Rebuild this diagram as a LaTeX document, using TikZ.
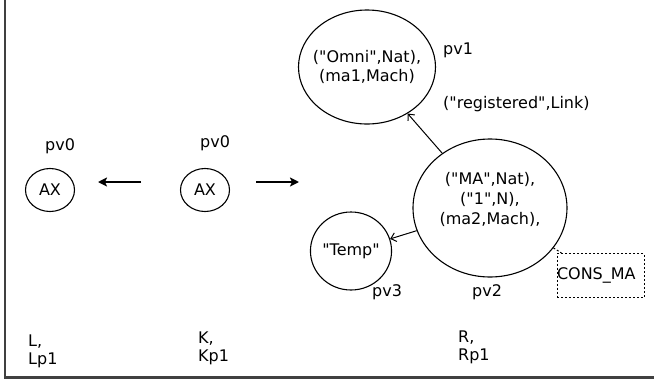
\documentclass[tikz,border=0pt]{standalone}
\usepackage{fontspec}
\setmainfont{DejaVu Sans}
\usetikzlibrary{shapes.geometric,arrows.meta}
\newcommand{\dq}{\textquotedbl}
\begin{document}
\begin{tikzpicture}[x=1pt,y=-1pt,
  every node/.style={font=\fontsize{16pt}{18pt}\selectfont},
  ell/.style={draw, ellipse, line width=1.1pt, inner sep=0pt},
  txt/.style={inner sep=0pt, anchor=base west},
  bigarrow/.style={line width=2pt, -{Stealth[length=9pt,width=9pt,inset=2pt]}},
  thinarrow/.style={line width=1pt, -{Straight Barb[length=5pt,width=9pt]}},
  dotbox/.style={draw, line width=1pt, dash pattern=on 2pt off 2pt},
]
\useasboundingbox (0,0) rectangle (654,381);
\draw[line width=2.4pt, black!75] (4.7,0) -- (4.7,377.3) -- (654,377.3);

% left and middle graphs
\node[ell, minimum width=49pt, minimum height=43pt] (axL) at (50,190) {AX};
\node[ell, minimum width=49pt, minimum height=43pt] (axK) at (205,190) {AX};
\node[txt] (pv0L) at (45,150) {pv0};
\node[txt] (pv0K) at (200,147) {pv0};
\coordinate (aLs) at (141,182);
\coordinate (aLe) at (98,182);
\coordinate (aRs) at (256,182);
\coordinate (aRe) at (299,182);
\draw[bigarrow] (aLs) -- (aLe);
\draw[bigarrow] (aRs) -- (aRe);

% right graph
\node[ell, minimum width=137pt, minimum height=114pt,
  label={[align=center, font=\fontsize{16pt}{18.5pt}\selectfont]center:{(\dq Omni\dq,Nat),\\(ma1,Mach)}}] (pv1) at (367,67) {};
\node[txt] (lpv1) at (443,54) {pv1};
\node[txt] (lreg) at (443,108) {(\dq registered\dq,Link)};

\node[ell, minimum width=154pt, minimum height=138pt,
  label={[align=center, yshift=9pt, font=\fontsize{16pt}{20pt}\selectfont]center:{(\dq MA\dq,Nat),\\(\dq 1\dq,N),\\(ma2,Mach),}}] (pv2) at (490,208) {};
\node[ell, minimum width=77pt, minimum height=78pt] (pv3) at (351,251) {\dq Temp\dq};
\node[txt] (lpv3) at (372,296) {pv3};
\node[txt] (lpv2) at (472,296) {pv2};

\node[dotbox, minimum height=44pt, text width=87pt, inner xsep=0pt, align=left] (cons) at (600.5,275.5) {CONS\_MA};

\draw[thinarrow] (pv2) -- (pv1);
\draw[thinarrow] (pv2) -- (pv3);
\draw[dotbox] (pv2) -- ([xshift=5pt]cons.north west);

% bottom labels
\node[txt, align=left] (lL) at (28,364) {L,\\Lp1};
\node[txt, align=left] (lK) at (198,361) {K,\\Kp1};
\node[txt, align=left] (lR) at (458,360) {R,\\Rp1};
\end{tikzpicture}
\end{document}
